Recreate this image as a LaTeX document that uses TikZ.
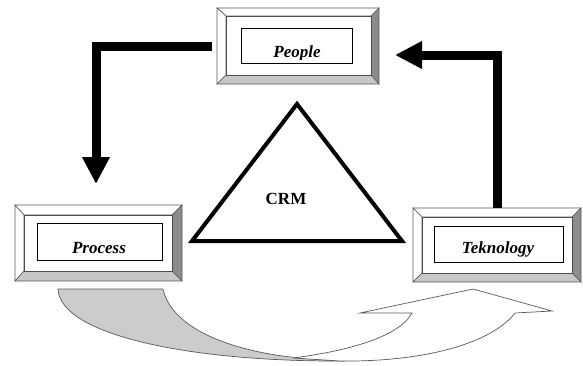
\documentclass[tikz,border=0pt]{standalone}
\usepackage{fontspec}
\setmainfont{Liberation Serif}
\usetikzlibrary{arrows.meta}
\tikzset{
  bev/.style={draw=black!65, line width=0.6pt},
  bevtop/.style={bev, fill=white},
  bevleft/.style={bev, fill=white},
  bevright/.style={bev, fill=black!45},
  bevbot/.style={bev, fill=black!22},
  face/.style={draw=black!70, line width=0.6pt, fill=white},
  txtbox/.style={draw=black, line width=0.7pt, fill=white},
  lbl/.style={anchor=base, inner sep=0pt, font=\fontsize{17}{17}\selectfont\bfseries\itshape},
  bigarrow/.style={line width=9pt, -{Triangle[length=27pt,width=26pt]}},
  bandgray/.style={draw=black!65, line width=0.7pt, fill=black!20},
  bandwhite/.style={draw=black!65, line width=0.7pt, fill=white},
}
\newcommand\bevelbox[8]{%
  \path[bevtop] (#1,#2) -- (#3,#2) -- (#7,#6) -- (#5,#6) -- cycle;
  \path[bevleft] (#1,#2) -- (#5,#6) -- (#5,#8) -- (#1,#4) -- cycle;
  \path[bevright] (#3,#2) -- (#3,#4) -- (#7,#8) -- (#7,#6) -- cycle;
  \path[bevbot] (#1,#4) -- (#3,#4) -- (#7,#8) -- (#5,#8) -- cycle;
  \path[face] (#5,#6) rectangle (#7,#8);
}
\begin{document}
\begin{tikzpicture}[x=1pt,y=-1pt]
\useasboundingbox (0,0) rectangle (583,365);

% bottom curved arrows
\path[bandgray] (58,289) -- (163,289) .. controls (172,330) and (235,352) .. (300,358)
  -- (345,361) .. controls (190,362) and (60,335) .. (58,289) -- cycle;
\path[bandwhite] (293,358) .. controls (355,350) and (400,335) .. (412,313)
  -- (360,313) -- (473,289) -- (552,311) -- (515,313)
  .. controls (490,345) and (420,362) .. (340,361) -- cycle;

% People
\node[minimum width=162pt, minimum height=76pt, inner sep=0pt] (people) at (298,46) {};
\bevelbox{217}{8}{379}{84}{226}{16}{371}{75}
\node[txtbox, minimum width=111pt, minimum height=35pt] (ptext) at (296.5,45.5) {};
\begin{scope}
\clip (241,28) rectangle (352,59);
\node[lbl] (plbl) at (297,57) {People};
\end{scope}

% Process
\node[minimum width=167pt, minimum height=76pt, inner sep=0pt] (process) at (98.5,243) {};
\bevelbox{15}{205}{182}{281}{24}{215}{172}{271}
\node[txtbox, minimum width=125pt, minimum height=37pt] (prtext) at (99.5,241.5) {};
\begin{scope}
\clip (37,223) rectangle (162,257);
\node[lbl] (prlbl) at (99,253) {Process};
\end{scope}

% Teknology
\node[minimum width=168pt, minimum height=74pt, inner sep=0pt] (tech) at (497,245) {};
\bevelbox{413}{208}{581}{282}{422}{217}{572}{273}
\node[txtbox, minimum width=129pt, minimum height=36pt] (ttext) at (498.5,244) {};
\begin{scope}
\clip (434,226) rectangle (563,256);
\node[lbl] (tlbl) at (498,253) {Teknology};
\end{scope}

% CRM triangle
\coordinate (ta) at (297,104);
\coordinate (tb) at (192,241);
\coordinate (tc) at (402,241);
\draw[line width=4pt, line join=miter] (ta) -- (tb) -- (tc) -- cycle;
\node[anchor=base, inner sep=0pt, font=\fontsize{17}{17}\selectfont\bfseries] (crm) at (286,204) {CRM};

% big arrows
\coordinate (a1s) at (212,46);
\coordinate (a1e) at (96,184);
\draw[bigarrow] (a1s) -| (a1e);
\coordinate (a2e) at (395,55);
\draw[bigarrow] (tech.north) |- (a2e);
\end{tikzpicture}
\end{document}
